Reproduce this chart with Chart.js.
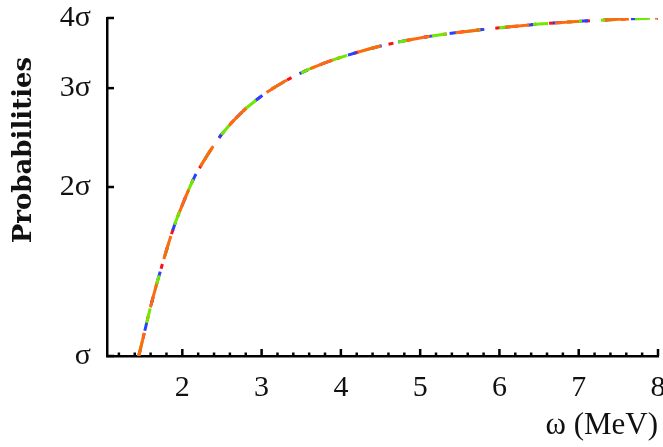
<!DOCTYPE html>
<html>
<head>
<meta charset="utf-8">
<script src="https://cdn.jsdelivr.net/npm/chart.js@4/dist/chart.umd.min.js"></script>
<style>
    html, body { margin: 0; padding: 0; background: #fff; }
    #wrap { width: 663px; height: 447px; }
</style>
</head>
<body>
<div id="wrap"><canvas id="probChart"></canvas></div>
<script>
// values (omega in MeV, probability in units of sigma)
const omega = [1.45, 1.5, 1.6, 1.75, 1.9, 2.0, 2.15, 2.25, 2.4, 2.5, 2.75, 3.0, 3.25, 3.5, 3.75, 4.0, 4.5, 5.0, 5.5, 6.0, 6.5, 7.0, 7.5, 8.0];
const probability = [1.0, 1.069, 1.224, 1.46, 1.708, 1.858, 2.079, 2.201, 2.377, 2.485, 2.717, 2.904, 3.061, 3.195, 3.308, 3.404, 3.565, 3.686, 3.774, 3.842, 3.901, 3.945, 3.978, 4.0];

const xMajorTicks = [2, 3, 4, 5, 6, 7, 8];
const xMinorStep = 0.2;
const yTicks = [1, 2, 3, 4];
const yTickLabels = ["σ", "2σ", "3σ", "4σ"];
const yTitle = "Probabilities";

// the four overlapping curves, top one first
const seriesColors = ["#ff6a10", "#70e800", "#2a40ff", "#ff1010"];
const seriesDash = [[24, 26], [15, 19], [9, 17], [5, 13]];

const serif = "'Liberation Serif', 'DejaVu Serif', serif";

function points() {
    return omega.map((w, i) => ({ x: w, y: probability[i] }));
}

// inward tick marks, like the original figure
const innerTicks = {
    id: "innerTicks",
    afterDatasetsDraw(chart) {
        const ctx = chart.ctx;
        const area = chart.chartArea;
        const xs = chart.scales.x;
        const ys = chart.scales.y;
        ctx.save();
        ctx.strokeStyle = "#000";
        ctx.lineWidth = 2.5;
        xs.ticks.forEach((t) => {
            const px = xs.getPixelForValue(t.value);
            const len = xMajorTicks.includes(t.value) ? 7 : 3.5;
            ctx.beginPath();
            ctx.moveTo(px, area.bottom);
            ctx.lineTo(px, area.bottom - len);
            ctx.stroke();
        });
        ys.ticks.forEach((t) => {
            const py = ys.getPixelForValue(t.value);
            ctx.beginPath();
            ctx.moveTo(area.left, py);
            ctx.lineTo(area.left + 7, py);
            ctx.stroke();
        });
        ctx.restore();
    },
};

// y title sits a bit above the middle in the original
const sideTitle = {
    id: "sideTitle",
    afterDraw(chart) {
        const ctx = chart.ctx;
        ctx.save();
        ctx.translate(31, 150);
        ctx.rotate(-Math.PI / 2);
        ctx.font = "bold 26px 'DejaVu Serif', serif";
        ctx.fillStyle = "#111";
        ctx.textAlign = "center";
        ctx.textBaseline = "alphabetic";
        ctx.fillText(yTitle, 0, 0);
        ctx.restore();
    },
};

const ctx = document.getElementById("probChart").getContext("2d");

new Chart(ctx, {
    type: "line",
    data: {
        datasets: seriesColors.map((c, i) => ({
            data: points(),
            borderColor: c,
            borderWidth: 3,
            borderDash: seriesDash[i],
            pointRadius: 0,
            fill: false,
            cubicInterpolationMode: "monotone",
        })),
    },
    options: {
        responsive: true,
        maintainAspectRatio: false,
        animation: false,
        layout: { autoPadding: false, padding: { top: 18, right: 5, left: 0, bottom: 0 } },
        plugins: { legend: { display: false }, tooltip: { enabled: false } },
        scales: {
            x: {
                type: "linear",
                min: 1.05,
                max: 8,
                afterBuildTicks(scale) {
                    const list = [];
                    for (let t = 1.2; t <= 8.001; t += xMinorStep) {
                        list.push(Math.round(t * 10) / 10);
                    }
                    scale.ticks = list.map((v) => ({ value: v }));
                },
                afterFit(scale) {
                    scale.height = 91;
                    scale.paddingLeft = 0;
                    scale.paddingRight = 0;
                },
                grid: { display: false, drawTicks: false },
                border: { color: "#000", width: 2.5 },
                ticks: {
                    autoSkip: false,
                    maxRotation: 0,
                    padding: 14,
                    color: "#111",
                    font: { family: serif, size: 30 },
                    callback: (v) => (xMajorTicks.includes(v) ? String(v) : ""),
                },
                title: {
                    display: true,
                    text: "ω (MeV)",
                    align: "end",
                    color: "#111",
                    font: { family: serif, size: 31 },
                    padding: { top: 0, bottom: 3 },
                },
            },
            y: {
                type: "logarithmic",
                min: 1,
                max: 4,
                afterBuildTicks(scale) {
                    scale.ticks = yTicks.map((v) => ({ value: v }));
                },
                afterFit(scale) {
                    scale.width = 107;
                    scale.paddingTop = 0;
                    scale.paddingBottom = 0;
                },
                grid: { display: false, drawTicks: false },
                border: { color: "#000", width: 2.5 },
                ticks: {
                    padding: 16,
                    color: "#111",
                    font: { family: serif, size: 30 },
                    callback: (v) => yTickLabels[yTicks.indexOf(v)],
                },
                title: { display: false },
            },
        },
    },
    plugins: [innerTicks, sideTitle],
});
</script>
</body>
</html>
